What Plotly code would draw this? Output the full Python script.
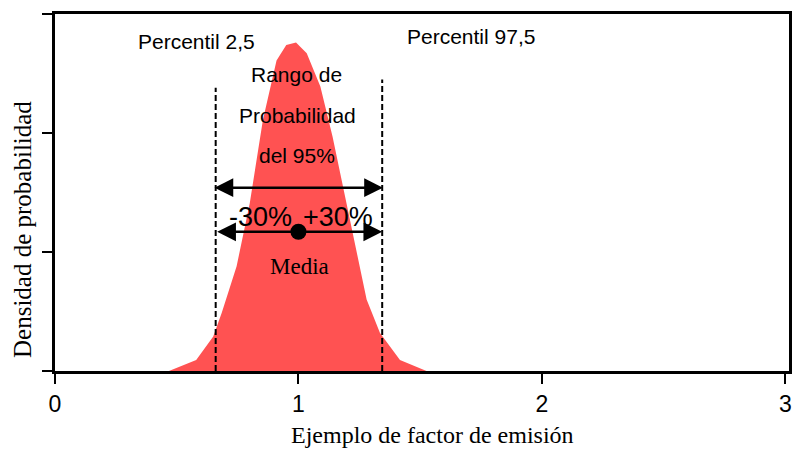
import plotly.graph_objects as go

# Density curve
curve_x = [0.468, 0.58, 0.65, 0.685, 0.746, 0.80, 0.854, 0.91, 0.95, 0.99, 1.034, 1.09, 1.14, 1.21, 1.28, 1.335, 1.417, 1.526]
curve_y = [0.0, 0.092, 0.29, 0.49, 0.88, 1.41, 2.11, 2.61, 2.74, 2.76, 2.67, 2.39, 1.97, 1.27, 0.60, 0.32, 0.092, 0.0]

# Percentiles and mean
p_low = 0.66
p_high = 1.344
p_low_top = 2.38
p_high_top = 2.45
mean_x = 1.0
mean_y = 1.17
upper_arrow_y = 1.54
upper_arrow_x = [0.649, 1.347]

x_ticks = [0, 1, 2, 3]
x_ticklabels = ["0", "1", "2", "3"]
y_ticks = [0, 1, 2, 3]

SANS = "Liberation Sans, Arial, sans-serif"
SERIF = "Liberation Serif, Times New Roman, serif"

fig = go.Figure()
fig.add_trace(go.Scatter(x=curve_x, y=curve_y, mode="lines", fill="tozeroy",
                         fillcolor="#FF5252", line=dict(width=0, color="#FF5252"),
                         hoverinfo="skip", showlegend=False))
# dashed percentile lines
fig.add_trace(go.Scatter(x=[p_low, p_low], y=[0, p_low_top], mode="lines",
                         line=dict(color="black", width=2, dash="6px,3px"), showlegend=False))
fig.add_trace(go.Scatter(x=[p_high, p_high], y=[0, p_high_top], mode="lines",
                         line=dict(color="black", width=2, dash="6px,3px"), showlegend=False))
# mean point
fig.add_trace(go.Scatter(x=[mean_x], y=[mean_y], mode="markers",
                         marker=dict(color="black", size=16), showlegend=False))

# double-headed arrows
arrows = [(upper_arrow_x[0], upper_arrow_x[1], upper_arrow_y), (p_low, p_high, mean_y)]
for x0, x1, yy in arrows:
    fig.add_annotation(x=x1, y=yy, ax=x0, ay=yy, xref="x", yref="y", axref="x", ayref="y",
                       text="", showarrow=True, arrowhead=2, arrowside="end+start",
                       arrowsize=1.5, arrowwidth=2.5, arrowcolor="black", standoff=0, startstandoff=0)

labels = [
    ("Percentil 2,5", 0.583, 2.77, SANS, 21),
    ("Percentil 97,5", 1.708, 2.81, SANS, 21),
    ("Rango de", 0.994, 2.49, SANS, 21),
    ("Probabilidad", 0.998, 2.15, SANS, 21),
    ("del 95%", 0.996, 1.815, SANS, 21),
    ("-30%", 0.846, 1.29, SANS, 27),
    ("+30%", 1.162, 1.29, SANS, 27),
    ("Media", 1.006, 0.874, SERIF, 23),
]
for t, x, y, fam, sz in labels:
    fig.add_annotation(x=x, y=y, xref="x", yref="y", text=t, showarrow=False,
                       font=dict(family=fam, size=sz, color="black"),
                       xanchor="center", yanchor="middle")

# axis titles
fig.add_annotation(x=(432 - 55) / 734, y=(371 - 435) / 357, xref="paper", yref="paper",
                   text="Ejemplo de factor de emisión", showarrow=False,
                   xanchor="center", yanchor="middle",
                   font=dict(family=SERIF, size=24, color="black"))
fig.add_annotation(x=(22 - 55) / 734, y=(371 - 230) / 357, xref="paper", yref="paper",
                   text="Densidad de probabilidad", showarrow=False, textangle=-90,
                   xanchor="center", yanchor="middle",
                   font=dict(family=SERIF, size=25, color="black"))

fig.update_layout(
    width=792, height=450,
    margin=dict(l=55, r=3, t=14, b=79, autoexpand=False),
    paper_bgcolor="white", plot_bgcolor="white",
    showlegend=False,
    xaxis=dict(range=[0, 3.015], tickvals=x_ticks, ticktext=x_ticklabels, automargin=False,
               ticks="outside", ticklen=10, tickwidth=2, tickcolor="black",
               showline=True, linecolor="black", linewidth=3, mirror=True,
               showgrid=False, zeroline=False,
               tickfont=dict(family=SANS, size=23, color="black")),
    yaxis=dict(range=[0, 3], tickvals=y_ticks, showticklabels=False, automargin=False,
               ticks="outside", ticklen=10, tickwidth=2, tickcolor="black",
               showline=True, linecolor="black", linewidth=3, mirror=True,
               showgrid=False, zeroline=False),
)

fig.write_html("out.html", config={"displayModeBar": False},
               post_script="document.body.style.margin='0';document.body.style.overflow='hidden';")
